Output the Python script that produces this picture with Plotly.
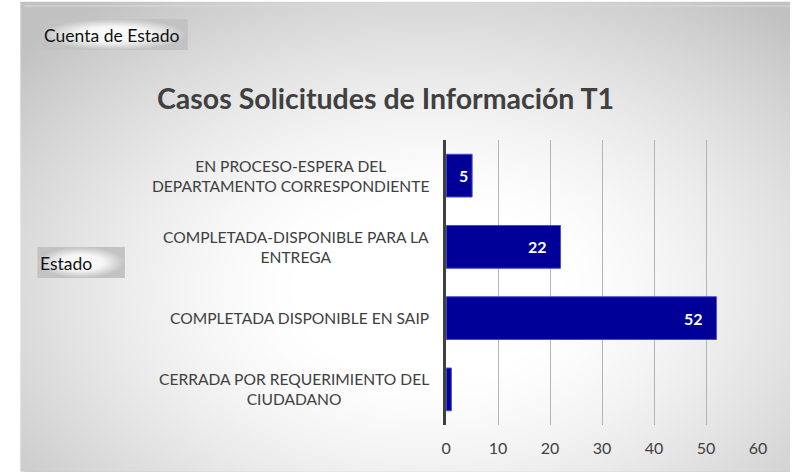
import numpy as np
import plotly.graph_objects as go

# ---- data ----
categories = [
    "EN PROCESO-ESPERA DEL<br>DEPARTAMENTO CORRESPONDIENTE",
    "COMPLETADA-DISPONIBLE PARA LA<br>ENTREGA",
    "COMPLETADA DISPONIBLE EN SAIP",
    "CERRADA POR REQUERIMIENTO DEL<br>CIUDADANO",
]
values = [5, 22, 52, 1]
value_labels = ["5", "22", "52", ""]
x_ticks = [0, 10, 20, 30, 40, 50, 60]
title_text = "Casos Solicitudes de Información T1"
field_buttons = ["Cuenta de Estado", "Estado"]

W, H = 799, 472
FONT = "Lato"
TXT = "#404040"


def pxx(x):
    return x / W


def pxy(y):
    return 1 - y / H


fig = go.Figure()

# ---- radial gradient chart-area background (pixel coordinate axes) ----
gx = np.linspace(20, 799, 90)
gy = np.linspace(6, 472, 56)
XX, YY = np.meshgrid(gx, gy)
d = np.sqrt(((XX - 430) / 500.0) ** 2 + ((YY - 290) / 330.0) ** 2)
t = np.clip((d - 0.25) / 0.85, 0, 1) ** 1.4
Z = 255 - 62 * t
fig.add_trace(go.Heatmap(x=gx, y=gy, z=Z, zmin=0, zmax=255,
                         colorscale=[[0, "#000000"], [1, "#ffffff"]],
                         zsmooth="best", showscale=False, hoverinfo="skip",
                         xaxis="x", yaxis="y"))

# ---- pivot field buttons ----
btn_boxes = [(37, 186, 19, 50), (33, 122, 247, 278)]
for (x0, x1, y0, y1), label in zip(btn_boxes, field_buttons):
    fig.add_trace(go.Scatter(x=[x0, x1, x1, x0, x0], y=[y0, y0, y1, y1, y0],
                             mode="lines", fill="toself", line=dict(width=0),
                             fillgradient=dict(type="radial",
                                               colorscale=[[0, "#ffffff"], [0.5, "#f6f6f6"],
                                                           [1, "#c2c2c2"]]),
                             hoverinfo="skip", showlegend=False,
                             xaxis="x", yaxis="y"))
    fig.add_annotation(x=x0 + 1, y=(y0 + y1) / 2 + 1, xref="x", yref="y",
                       text=label, showarrow=False, xanchor="left", yanchor="middle",
                       font=dict(family=FONT, size=17.5, color="#111111"))

# ---- bars ----
cat_idx = list(range(len(categories)))
fig.add_trace(go.Bar(x=values, y=cat_idx, orientation="h",
                     marker=dict(color="#000099", line=dict(color="#4a4ad0", width=1)),
                     hoverinfo="skip", showlegend=False,
                     xaxis="x2", yaxis="y2"))

# category labels (centered multi-line, right aligned block)
for i, c in enumerate(categories):
    fig.add_annotation(x=pxx(434), xref="paper", y=i, yref="y2", text=c,
                       showarrow=False, xanchor="right", yanchor="middle",
                       align="center", font=dict(family=FONT, size=15.6, color=TXT))

# value labels inside end
for i, (v, lab) in enumerate(zip(values, value_labels)):
    if lab:
        fig.add_annotation(x=v, xref="x2", y=i, yref="y2", text="<b>%s</b>" % lab,
                           showarrow=False, xanchor="right", yanchor="middle",
                           xshift=-11 if v >= 10 else -2,
                           font=dict(family=FONT, size=16, color="#ffffff"))

# title
fig.add_annotation(x=387.5, y=98, xref="x", yref="y", text="<b>%s</b>" % title_text,
                   showarrow=False, xanchor="center", yanchor="middle",
                   font=dict(family=FONT, size=28.5, color=TXT))

# gray base under the gradient (covers any edge gap of the heatmap image)
fig.add_shape(type="rect", xref="x", yref="y", x0=20, x1=W + 2, y0=6, y1=H + 2,
              fillcolor="#c8c8c8", line=dict(width=0), layer="below")
# top border line of the chart area
fig.add_shape(type="line", xref="x", yref="y", x0=20, x1=W + 2, y0=6, y1=6,
              line=dict(color="#dadada", width=1), layer="above")

fig.update_layout(
    width=W, height=H, autosize=False,
    margin=dict(l=0, r=0, t=0, b=0),
    paper_bgcolor="white", plot_bgcolor="rgba(0,0,0,0)",
    showlegend=False, bargap=0.4,
    xaxis=dict(domain=[0, 1], range=[0, W], visible=False, fixedrange=True),
    yaxis=dict(domain=[0, 1], range=[H, 0], visible=False, fixedrange=True),
    xaxis2=dict(domain=[pxx(449), pxx(766.7)], anchor="y2", range=[0, 60.05],
                tickvals=x_ticks, ticktext=[str(v) for v in x_ticks],
                showgrid=True, gridcolor="#b4b4b4", gridwidth=1,
                zeroline=False, showline=False, ticks="", fixedrange=True,
                ticklabelstandoff=12,
                tickfont=dict(family=FONT, size=16, color=TXT)),
    yaxis2=dict(domain=[pxy(425), pxy(140)], anchor="x2", fixedrange=True,
                range=[3.5, -0.5], showticklabels=False, showgrid=False,
                zeroline=False, showline=True, linecolor="#404040", linewidth=3,
                ticks=""),
)

fig.write_html("out.html",
               config={"responsive": False, "displayModeBar": False},
               post_script="document.body.style.margin='0px';")
